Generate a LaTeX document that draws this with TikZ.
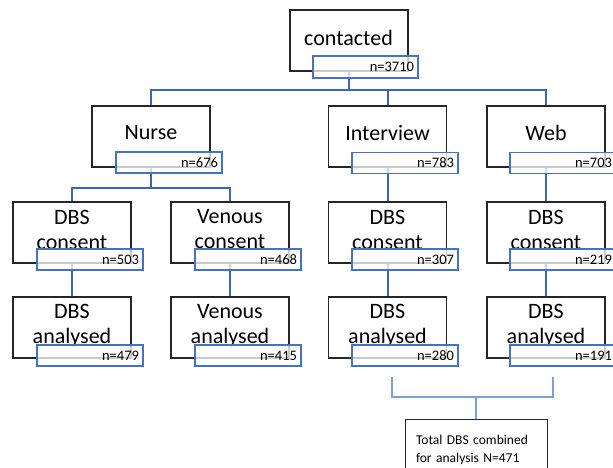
\documentclass[tikz,border=0pt]{standalone}
\usepackage{fontspec}
\setmainfont{Carlito}
\definecolor{nblue}{HTML}{4472C4}
\definecolor{cblue}{HTML}{3A66B5}
\definecolor{bblue}{HTML}{7F9FD9}
\begin{document}
\begin{tikzpicture}[x=1pt,y=-1pt,
  mainbox/.style={draw=black!85, line width=1.3pt, fill=white, minimum width=118pt,
    minimum height=61pt, inner sep=0pt},
  mtext/.style={inner sep=0pt, align=center, font=\fontsize{22}{25}\selectfont},
  nbox/.style={draw=nblue, line width=1.1pt, fill=white, fill opacity=0.75, text opacity=1,
    minimum height=21pt, minimum width=106pt, inner xsep=4pt, inner ysep=0pt, text width=98pt, align=right,
    font=\fontsize{14.5}{16}\selectfont},
  conn/.style={draw=cblue, line width=2pt},
  brk/.style={draw=bblue, line width=1.8pt},
  totbox/.style={draw=black!85, line width=1pt, fill=white, anchor=north, inner xsep=11pt,
    inner ysep=5pt, text width=120pt, align=left, font=\fontsize{13.5}{18}\selectfont}
]
\useasboundingbox (0,0) rectangle (613,468);
\coordinate (j0) at (348.5,90);
\coordinate (jN) at (151,188);
\coordinate (bL) at (392,377);
\coordinate (bR) at (553,377);
\coordinate (bM) at (476,397);

% main boxes
\node[mainbox, line width=2pt] (contacted) at (348.5,40.5) {};
\node[mainbox] (nurse) at (151,136.5) {};
\node[mainbox] (interview) at (387.5,136.5) {};
\node[mainbox] (web) at (546,136.5) {};
\node[mainbox] (c1) at (72,232.5) {};
\node[mainbox] (c2) at (230,232.5) {};
\node[mainbox] (c3) at (387.5,232.5) {};
\node[mainbox] (c4) at (546,232.5) {};
\node[mainbox] (a1) at (72,327.5) {};
\node[mainbox] (a2) at (230,327.5) {};
\node[mainbox] (a3) at (387.5,327.5) {};
\node[mainbox] (a4) at (546,327.5) {};

% texts of main boxes
\node[mtext] (contactedt) at ([yshift=2.5pt]contacted.center) {contacted};
\node[mtext] (nurset) at ([yshift=3.5pt]nurse.center) {Nurse};
\node[mtext] (interviewt) at ([yshift=3.5pt]interview.center) {Interview};
\node[mtext] (webt) at ([yshift=3.5pt]web.center) {Web};
\node[mtext] (c1t) at ([yshift=3pt]c1.center) {DBS\\consent};
\node[mtext] (c2t) at ([yshift=3pt]c2.center) {Venous\\consent};
\node[mtext] (c3t) at ([yshift=3pt]c3.center) {DBS\\consent};
\node[mtext] (c4t) at ([yshift=3pt]c4.center) {DBS\\consent};
\node[mtext] (a1t) at ([yshift=2pt]a1.center) {DBS\\analysed};
\node[mtext] (a2t) at ([yshift=2pt]a2.center) {Venous\\analysed};
\node[mtext] (a3t) at ([yshift=2pt]a3.center) {DBS\\analysed};
\node[mtext] (a4t) at ([yshift=2pt]a4.center) {DBS\\analysed};

% connectors
\draw[conn] (contacted.south) -- (j0);
\draw[conn] (nurse.north) |- (j0) -| (web.north);
\draw[conn] (j0) -| (interview.north);
\draw[conn] (nurse.south) -- (jN);
\draw[conn] (c1.north) |- (jN) -| (c2.north);
\draw[conn] (interview.south) -- (c3.north);
\draw[conn] (web.south) -- (c4.north);
\draw[conn] (c1.south) -- (a1.north);
\draw[conn] (c2.south) -- (a2.north);
\draw[conn] (c3.south) -- (a3.north);
\draw[conn] (c4.south) -- (a4.north);

% n boxes
\node[nbox, minimum width=105pt, text width=97pt, minimum height=22pt] (n0) at (365.5,67) {n=3710};
\node[nbox] (n1) at (169,162.5) {n=676};
\node[nbox] (n2) at (405,163) {n=783};
\node[nbox] (n3) at (563,163) {n=703};
\node[nbox] (n4) at (90,259.5) {n=503};
\node[nbox] (n5) at (248,259.5) {n=468};
\node[nbox] (n6) at (405,259.5) {n=307};
\node[nbox] (n7) at (563,259.5) {n=219};
\node[nbox] (n8) at (90,355.5) {n=479};
\node[nbox] (n9) at (248,355.5) {n=415};
\node[nbox] (n10) at (405,355.5) {n=280};
\node[nbox] (n11) at (563,355.5) {n=191};

% bracket and total box
\node[totbox, minimum width=142pt, minimum height=61pt] (total) at (476,419) {Total DBS combined\\for analysis N=471};
\draw[brk] (bL) |- (bM) -| (bR);
\draw[brk] (bM) -- (total.north);
\end{tikzpicture}
\end{document}
